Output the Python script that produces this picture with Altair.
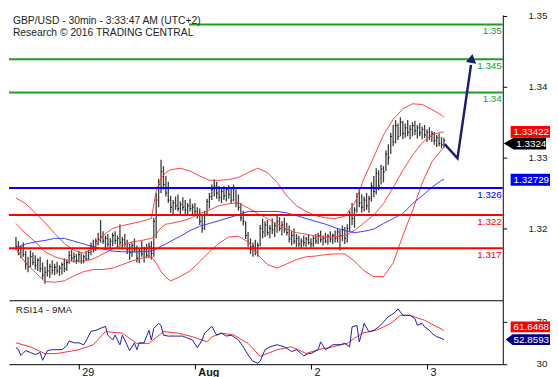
import altair as alt
import pandas as pd

# ---------------- data ----------------
bar_high = [
    1.3188, 1.3182, 1.3176, 1.3180, 1.3168, 1.3160, 1.3169, 1.3166, 1.3162, 1.3158,
    1.3160, 1.3152, 1.3146, 1.3156, 1.3150, 1.3155, 1.3150, 1.3153, 1.3148, 1.3152,
    1.3158, 1.3156, 1.3168, 1.3170, 1.3166, 1.3164, 1.3168, 1.3165, 1.3163, 1.3168,
    1.3170, 1.3180, 1.3184, 1.3186, 1.3194, 1.3212, 1.3196, 1.3190, 1.3192, 1.3186,
    1.3194, 1.3196, 1.3190, 1.3206, 1.3188, 1.3192, 1.3184, 1.3178, 1.3180, 1.3186,
    1.3176, 1.3172, 1.3182, 1.3174, 1.3178, 1.3180, 1.3182, 1.3215, 1.3250, 1.3270,
    1.3297, 1.3288, 1.3274, 1.3266, 1.3246, 1.3240, 1.3245, 1.3248, 1.3238, 1.3244,
    1.3240, 1.3236, 1.3242, 1.3235, 1.3236, 1.3230, 1.3228, 1.3218, 1.3225, 1.3242,
    1.3250, 1.3262, 1.3269, 1.3266, 1.3260, 1.3256, 1.3260, 1.3258, 1.3261, 1.3256,
    1.3262, 1.3255, 1.3248, 1.3236, 1.3225, 1.3210, 1.3195, 1.3186, 1.3180, 1.3184,
    1.3180, 1.3205, 1.3214, 1.3210, 1.3212, 1.3205, 1.3214, 1.3208, 1.3218, 1.3216,
    1.3210, 1.3215, 1.3208, 1.3204, 1.3196, 1.3200, 1.3192, 1.3190, 1.3186, 1.3190,
    1.3188, 1.3192, 1.3186, 1.3190, 1.3192, 1.3194, 1.3197, 1.3190, 1.3194, 1.3192,
    1.3196, 1.3193, 1.3197, 1.3200, 1.3198, 1.3204, 1.3202, 1.3206, 1.3225, 1.3236,
    1.3230, 1.3250, 1.3256, 1.3248, 1.3245, 1.3250, 1.3246, 1.3265, 1.3274, 1.3285,
    1.3282, 1.3290, 1.3288, 1.3310, 1.3319, 1.3335, 1.3346, 1.3353, 1.3348, 1.3357,
    1.3352, 1.3348, 1.3353, 1.3346, 1.3350, 1.3352, 1.3346, 1.3349, 1.3344, 1.3346,
    1.3340, 1.3343, 1.3338, 1.3336, 1.3332, 1.3334, 1.3329, 1.3328]
bar_low = [
    1.3170, 1.3162, 1.3158, 1.3160, 1.3142, 1.3138, 1.3145, 1.3148, 1.3142, 1.3140,
    1.3138, 1.3128, 1.3122, 1.3132, 1.3130, 1.3135, 1.3134, 1.3136, 1.3133, 1.3135,
    1.3138, 1.3140, 1.3150, 1.3154, 1.3152, 1.3150, 1.3152, 1.3150, 1.3151, 1.3154,
    1.3155, 1.3162, 1.3166, 1.3168, 1.3176, 1.3180, 1.3178, 1.3172, 1.3174, 1.3170,
    1.3175, 1.3178, 1.3172, 1.3176, 1.3170, 1.3174, 1.3164, 1.3156, 1.3160, 1.3166,
    1.3152, 1.3151, 1.3160, 1.3152, 1.3158, 1.3158, 1.3156, 1.3160, 1.3186, 1.3230,
    1.3250, 1.3255, 1.3245, 1.3236, 1.3222, 1.3220, 1.3226, 1.3224, 1.3218, 1.3225,
    1.3220, 1.3218, 1.3224, 1.3218, 1.3220, 1.3214, 1.3205, 1.3194, 1.3198, 1.3218,
    1.3228, 1.3240, 1.3245, 1.3242, 1.3238, 1.3236, 1.3240, 1.3238, 1.3242, 1.3236,
    1.3238, 1.3230, 1.3225, 1.3210, 1.3204, 1.3185, 1.3174, 1.3164, 1.3160, 1.3162,
    1.3160, 1.3175, 1.3186, 1.3188, 1.3190, 1.3186, 1.3192, 1.3188, 1.3194, 1.3196,
    1.3190, 1.3194, 1.3190, 1.3180, 1.3176, 1.3178, 1.3174, 1.3174, 1.3172, 1.3175,
    1.3174, 1.3177, 1.3173, 1.3174, 1.3178, 1.3178, 1.3180, 1.3176, 1.3179, 1.3177,
    1.3180, 1.3178, 1.3180, 1.3180, 1.3169, 1.3182, 1.3178, 1.3180, 1.3196, 1.3205,
    1.3201, 1.3222, 1.3230, 1.3222, 1.3224, 1.3226, 1.3222, 1.3238, 1.3244, 1.3248,
    1.3254, 1.3262, 1.3265, 1.3281, 1.3290, 1.3305, 1.3316, 1.3320, 1.3325, 1.3330,
    1.3326, 1.3328, 1.3330, 1.3326, 1.3330, 1.3332, 1.3327, 1.3330, 1.3326, 1.3328,
    1.3322, 1.3325, 1.3322, 1.3318, 1.3315, 1.3316, 1.3313, 1.3314]
bar_close = [
    1.3175, 1.3166, 1.3172, 1.3163, 1.3150, 1.3146, 1.3160, 1.3152, 1.3148, 1.3155,
    1.3143, 1.3134, 1.3138, 1.3140, 1.3146, 1.3141, 1.3145, 1.3140, 1.3144, 1.3149,
    1.3143, 1.3152, 1.3162, 1.3158, 1.3160, 1.3155, 1.3163, 1.3154, 1.3160, 1.3157,
    1.3166, 1.3175, 1.3170, 1.3182, 1.3185, 1.3188, 1.3182, 1.3186, 1.3178, 1.3182,
    1.3190, 1.3183, 1.3186, 1.3180, 1.3184, 1.3178, 1.3170, 1.3166, 1.3176, 1.3170,
    1.3158, 1.3168, 1.3164, 1.3170, 1.3162, 1.3175, 1.3165, 1.3210, 1.3240, 1.3262,
    1.3280, 1.3262, 1.3250, 1.3240, 1.3230, 1.3236, 1.3232, 1.3228, 1.3234, 1.3230,
    1.3226, 1.3232, 1.3228, 1.3230, 1.3224, 1.3218, 1.3210, 1.3200, 1.3220, 1.3238,
    1.3245, 1.3255, 1.3260, 1.3250, 1.3244, 1.3252, 1.3246, 1.3255, 1.3248, 1.3240,
    1.3256, 1.3236, 1.3230, 1.3215, 1.3210, 1.3190, 1.3180, 1.3170, 1.3175, 1.3168,
    1.3176, 1.3200, 1.3195, 1.3205, 1.3194, 1.3200, 1.3198, 1.3204, 1.3210, 1.3200,
    1.3205, 1.3198, 1.3194, 1.3185, 1.3190, 1.3182, 1.3186, 1.3178, 1.3182, 1.3180,
    1.3185, 1.3180, 1.3178, 1.3186, 1.3182, 1.3190, 1.3184, 1.3186, 1.3182, 1.3189,
    1.3185, 1.3190, 1.3186, 1.3195, 1.3190, 1.3198, 1.3186, 1.3200, 1.3220, 1.3214,
    1.3226, 1.3245, 1.3236, 1.3230, 1.3240, 1.3232, 1.3242, 1.3260, 1.3252, 1.3278,
    1.3260, 1.3284, 1.3280, 1.3305, 1.3300, 1.3330, 1.3322, 1.3345, 1.3330, 1.3350,
    1.3334, 1.3342, 1.3336, 1.3340, 1.3345, 1.3338, 1.3342, 1.3335, 1.3340, 1.3332,
    1.3336, 1.3330, 1.3334, 1.3324, 1.3328, 1.3320, 1.3318, 1.3324]

band_idx = [0, 4, 8, 12, 16, 20, 24, 28, 32, 36, 40, 44, 48, 52, 56, 58, 60, 62,
            64, 68, 72, 76, 80, 84, 88, 92, 96, 100, 104, 108, 112, 116, 120, 124,
            128, 132, 136, 140, 144, 148, 152, 156, 160, 164, 168, 172, 176, 177]
bb_upper = [1.3243, 1.3235, 1.3222, 1.3208, 1.3193, 1.3179, 1.3169, 1.3165, 1.3172,
            1.3190, 1.3200, 1.3204, 1.3207, 1.3210, 1.3214, 1.3253, 1.3271, 1.3279,
            1.3283, 1.3285, 1.3281, 1.3274, 1.3268, 1.3268, 1.3269, 1.3272, 1.3279,
            1.3285, 1.3279, 1.3265, 1.3246, 1.3232, 1.3224, 1.3218, 1.3215, 1.3214,
            1.3217, 1.3235, 1.3271, 1.3301, 1.3332, 1.3354, 1.3369, 1.3376, 1.3375,
            1.3368, 1.3360, 1.3357]
bb_middle = [1.3207, 1.3193, 1.3181, 1.3167, 1.3160, 1.3156, 1.3153, 1.3154, 1.3157,
             1.3164, 1.3171, 1.3176, 1.3181, 1.3183, 1.3186, 1.3192, 1.3201, 1.3206,
             1.3207, 1.3210, 1.3214, 1.3221, 1.3226, 1.3232, 1.3235, 1.3236, 1.3229,
             1.3221, 1.3214, 1.3206, 1.3199, 1.3194, 1.3192, 1.3189, 1.3188, 1.3188,
             1.3190, 1.3197, 1.3208, 1.3219, 1.3235, 1.3258, 1.3282, 1.3303, 1.3321,
             1.3332, 1.3336, 1.3336]
bb_lower = [1.3171, 1.3151, 1.3138, 1.3125, 1.3124, 1.3126, 1.3133, 1.3139, 1.3142,
            1.3142, 1.3144, 1.3149, 1.3154, 1.3158, 1.3161, 1.3151, 1.3139, 1.3131,
            1.3126, 1.3132, 1.3140, 1.3153, 1.3167, 1.3179, 1.3188, 1.3189, 1.3181,
            1.3163, 1.3149, 1.3144, 1.3150, 1.3156, 1.3160, 1.3161, 1.3163, 1.3164,
            1.3164, 1.3154, 1.3140, 1.3132, 1.3132, 1.3151, 1.3190, 1.3225, 1.3264,
            1.3294, 1.3311, 1.3314]
ma_long = [1.3172, 1.3178, 1.3181, 1.3183, 1.3186, 1.3186, 1.3182, 1.3178, 1.3174,
           1.3171, 1.3168, 1.3167, 1.3167, 1.3167, 1.3168, 1.3171, 1.3175, 1.3178,
           1.3182, 1.3189, 1.3197, 1.3203, 1.3207, 1.3211, 1.3215, 1.3219, 1.3224,
           1.3224, 1.3224, 1.3224, 1.3222, 1.3218, 1.3214, 1.3210, 1.3206, 1.3201,
           1.3197, 1.3194, 1.3196, 1.3199, 1.3207, 1.3214, 1.3221, 1.3235, 1.3246,
           1.3258, 1.3268, 1.3269]

rsi_idx = [0, 1, 2, 4, 6, 8, 10, 11, 13, 15, 19, 21, 22, 24, 26, 28, 29, 31, 33, 35,
           37, 38, 40, 41, 43, 44, 45, 47, 49, 50, 51, 53, 55, 56, 57, 59, 60, 61, 63, 66,
           69, 71, 73, 75, 77, 78, 81, 83, 85, 87, 89, 92, 94, 96, 98, 100, 101, 103, 105, 108,
           111, 112, 114, 116, 118, 119, 121, 122, 125, 126, 128, 129, 131, 134, 136, 138, 139, 141, 142, 143,
           144, 146, 148, 150, 152, 154, 156, 157, 158, 160, 162, 163, 165, 166, 168, 169, 171, 172, 174, 175,
           177]
rsi_val = [45.2, 43.6, 37.8, 42.4, 40.6, 38.7, 40.6, 33.2, 42.4, 43.3,
           43.3, 47.0, 51.6, 49.8, 49.8, 47.9, 51.6, 60.7, 61.7, 63.6,
           65.4, 57.1, 52.5, 57.1, 47.9, 57.1, 52.5, 42.4, 49.8, 43.3,
           49.8, 49.8, 61.7, 52.5, 63.6, 68.2, 66.3, 57.1, 56.2, 56.2,
           56.2, 54.3, 52.5, 45.2, 52.5, 59.0, 65.4, 57.1, 59.0, 56.2,
           57.1, 52.5, 46.0, 38.3, 32.3, 30.5, 32.3, 43.3, 46.0, 48.0,
           46.0, 44.6, 41.5, 43.3, 39.7, 37.4, 39.7, 39.7, 43.3, 50.7,
           43.3, 44.6, 48.0, 48.0, 49.3, 46.0, 64.9, 66.3, 50.7, 58.9,
           68.2, 60.3, 61.7, 64.9, 69.6, 74.6, 77.4, 79.2, 82.1, 75.9,
           75.9, 75.9, 72.8, 66.5, 68.2, 64.9, 61.7, 58.9, 55.6, 55.0,
           52.9]
rsi_ma_idx = [0, 6, 12, 17, 24, 26, 32, 37, 44, 50, 55, 61, 67, 73, 79, 81, 85, 90,
              96, 101, 108, 114, 120, 125, 131, 137, 143, 149, 155, 159, 163, 169, 177]
rsi_ma_val = [49.8, 46.0, 39.5, 39.7, 42.4, 43.3, 48.0, 60.5, 59.0, 49.3, 49.3, 60.5,
              59.0, 55.6, 50.7, 55.5, 59.0, 57.3, 49.3, 36.9, 43.3, 46.0, 39.7, 43.3,
              46.0, 49.3, 58.9, 61.7, 68.2, 75.9, 75.9, 71.2, 61.6]

level_values = [1.3488, 1.3439, 1.3392, 1.3257, 1.3219, 1.3172]
level_labels = ["1.35", "1.345", "1.34", "1.326", "1.322", "1.317"]
level_colors = ["#1e9e1e", "#1e9e1e", "#1e9e1e", "#0000ff", "#ff0000", "#ff0000"]

day_idx = [26, 74, 122, 170]
day_labels = ["29", "Aug", "2", "3"]

proj_idx = [177.3, 182.6, 188.2]
proj_val = [1.3319, 1.3299, 1.3431]
arrow_idx = [188.5]
arrow_val = [1.3440]

price_tag_values = [1.33422, 1.3324, 1.32729]
price_tag_labels = ["1.33422", "1.3324", "1.32729"]
price_tag_colors = ["#ff0000", "#000000", "#0000ff"]
rsi_tag_values = [61.6468, 52.8593]
rsi_tag_labels = ["61.6468", "52.8593"]
rsi_tag_colors = ["#ff0000", "#00007f"]

title_1 = "GBP/USD - 30min - 3:33:47 AM (UTC+2)"
title_2 = "Research \u00a9 2016 TRADING CENTRAL"
rsi_title = "RSI14 - 9MA"

# ---------------- tables ----------------
bars = pd.DataFrame({"k": list(range(len(bar_high))), "high": bar_high,
                     "low": bar_low, "close": bar_close})
bars["k2"] = bars["k"] + 0.5

bands = pd.concat([
    pd.DataFrame({"k": band_idx, "v": vals, "s": name})
    for name, vals in [("upper", bb_upper), ("middle", bb_middle), ("lower", bb_lower)]
])
ma_df = pd.DataFrame({"k": band_idx, "v": ma_long})
levels = pd.DataFrame({"v": level_values, "lab": level_labels, "c": level_colors})
proj = pd.DataFrame({"k": proj_idx, "v": proj_val})
arrow = pd.DataFrame({"k": arrow_idx, "v": arrow_val})
rsi_df = pd.DataFrame({"k": rsi_idx, "v": rsi_val})
rsi_ma_df = pd.DataFrame({"k": rsi_ma_idx, "v": rsi_ma_val})
one = pd.DataFrame({"a": [0]})

# ---------------- scales / axes ----------------
FONT = "Liberation Sans"
W, H1, H2 = 502, 290, 65
xs = alt.Scale(domain=[-2.889, 201.34], nice=False, zero=False)
ys = alt.Scale(domain=[1.30986, 1.35014], nice=False, zero=False)
rs = alt.Scale(domain=[29.54, 90.23], nice=False, zero=False)

y_axis_main = alt.Axis(orient="right", values=[1.32, 1.33, 1.34, 1.35], format=".2f",
                       grid=False, tickSize=4, tickColor="#000", domainColor="#000",
                       labelAlign="right", labelPadding=41, labelFont=FONT,
                       labelFontSize=10, labelColor="#222", title=None)
x_axis_main = alt.Axis(labels=False, ticks=False, grid=False, domain=True,
                       domainColor="#000", title=None, minExtent=0)

expr = " : ".join(f"datum.value == {i} ? '{l}'" for i, l in zip(day_idx, day_labels)) + " : ''"
x_axis_rsi = alt.Axis(values=day_idx, labelExpr=expr, labelAlign="left", labelOffset=3,
                      labelPadding=-2, tickSize=5, tickColor="#000", domainColor="#000",
                      labelFont=FONT, labelFontSize=11, labelColor="#111", grid=False,
                      title=None, labelOverlap=False, labelFlush=False,
                      labelFontWeight={"condition": {"test": f"datum.value == {day_idx[1]}",
                                                     "value": "bold"}, "value": "normal"})
y_axis_rsi = alt.Axis(orient="right", values=[30, 70], format="d", grid=False, tickSize=4,
                      tickColor="#000", domainColor="#000", labelAlign="right",
                      labelPadding=41, labelFont=FONT, labelFontSize=10,
                      labelColor="#222", title=None)


def X(field="k:Q"):
    return alt.X(field, scale=xs, axis=x_axis_main)


def Y(field):
    return alt.Y(field, scale=ys, axis=y_axis_main)


def XR(field="k:Q"):
    return alt.X(field, scale=xs, axis=x_axis_rsi)


def YR(field):
    return alt.Y(field, scale=rs, axis=y_axis_rsi)


def box_path(left, right, shift, tip=None):
    # unit-square path (scaled by sqrt(size)/2); shift moves it vertically
    top, bot = -1 + shift, 1 + shift
    if tip is None:
        return f"M{left},{top}H{right}V{bot}H{left}Z"
    return f"M{tip},{shift}L{left},{top}H{right}V{bot}H{left}Z"


def tag_layers(values, labels, colors, shapes, dys, ychan, size):
    out = []
    for v, t, c, sh, dy in zip(values, labels, colors, shapes, dys):
        d = pd.DataFrame({"v": [v], "t": [t]})
        out.append(alt.Chart(d).mark_point(filled=True, size=size, opacity=1, strokeWidth=0,
                                           shape=sh, color=c).encode(
            x=alt.value(530), y=ychan("v:Q")))
        out.append(alt.Chart(d).mark_text(color="white", font=FONT, fontSize=10,
                                          align="center", baseline="middle", dy=dy).encode(
            x=alt.value(531), y=ychan("v:Q"), text="t:N"))
    return out


# ---------------- main panel ----------------
hl = alt.Chart(bars).mark_rule(color="#3c3c3c", strokeWidth=1.3).encode(
    x=X(), y=Y("low:Q"), y2="high:Q")
cl = alt.Chart(bars).mark_rule(color="#000", strokeWidth=1).encode(
    x=X(), x2="k2:Q", y=Y("close:Q"))
band_lines = alt.Chart(bands).mark_line(color="#ff4040", strokeWidth=1).encode(
    x=X(), y=Y("v:Q"), detail="s:N")
ma_line = alt.Chart(ma_df).mark_line(color="#3a3aff", strokeWidth=1).encode(
    x=X(), y=Y("v:Q"))
lvl = alt.Chart(levels).mark_rule(strokeWidth=2).encode(
    y=Y("v:Q"), color=alt.Color("c:N", scale=None))
lvl_txt = alt.Chart(levels).mark_text(align="right", baseline="top", dy=2,
                                      font=FONT, fontSize=10).encode(
    x=alt.value(501), y=Y("v:Q"), text="lab:N", color=alt.Color("c:N", scale=None))
proj_line = alt.Chart(proj).mark_line(color="#1d1d6b", strokeWidth=2.5).encode(
    x=X(), y=Y("v:Q"))
proj_head = alt.Chart(arrow).mark_point(shape="triangle-up", filled=True, size=110,
                                        color="#1d1d6b", opacity=1, angle=8.5).encode(
    x=X(), y=Y("v:Q"))
title_bg = alt.Chart(one).mark_rect(color="white").encode(
    x=alt.value(0), x2=alt.value(183), y=alt.value(0), y2=alt.value(23))
t1 = alt.Chart(one).mark_text(align="left", baseline="top", font=FONT, fontSize=10.5,
                              color="#222", text=title_1).encode(
    x=alt.value(4), y=alt.value(1))
t2 = alt.Chart(one).mark_text(align="left", baseline="top", font=FONT, fontSize=10.5,
                              color="#222", text=title_2).encode(
    x=alt.value(4), y=alt.value(13))

main_tags = tag_layers(
    price_tag_values, price_tag_labels, price_tag_colors,
    [box_path(-3.333, 3.333, 0.7), box_path(-2.833, 2.667, 0.5, tip=-4.5),
     box_path(-3.333, 3.333, 0.5)],
    [4, 3, 3], Y, 144)

main = alt.layer(hl, cl, band_lines, ma_line, lvl, lvl_txt, proj_line, proj_head,
                 title_bg, t1, t2, *main_tags).properties(width=W, height=H1)

# ---------------- RSI panel ----------------
rsi_ma_line = alt.Chart(rsi_ma_df).mark_line(color="#ff3030", strokeWidth=1, clip=True).encode(
    x=XR(), y=YR("v:Q"))
rsi_line = alt.Chart(rsi_df).mark_line(color="#1c1c9c", strokeWidth=1, clip=True).encode(
    x=XR(), y=YR("v:Q"))
rsi_t = alt.Chart(one).mark_text(align="left", baseline="top", font=FONT, fontSize=10,
                                 color="#222", text=rsi_title).encode(
    x=alt.value(7), y=alt.value(5))
rsi_tags_l = tag_layers(
    rsi_tag_values, rsi_tag_labels, rsi_tag_colors,
    [box_path(-3.636, 3.636, -0.65), box_path(-3.27, 3.636, 0.0, tip=-4.545)],
    [-3.5, 0], YR, 121)

rsi = alt.layer(rsi_ma_line, rsi_line, rsi_t, *rsi_tags_l).properties(width=W, height=H2)

chart = alt.vconcat(main, rsi, spacing=0).properties(
    padding={"left": 0, "top": 0, "right": 0, "bottom": 0}
).configure_view(stroke=None)

chart.save("out.html", embed_options={"renderer": "svg", "actions": False})
